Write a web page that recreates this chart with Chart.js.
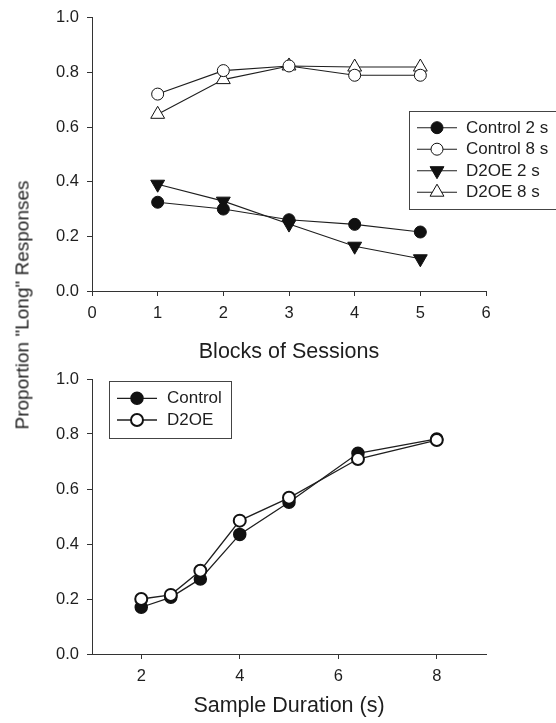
<!DOCTYPE html>
<html>
<head>
<meta charset="utf-8">
<script src="https://cdn.jsdelivr.net/npm/chart.js@4.4.1/dist/chart.umd.min.js"></script>
<style>
  html, body { margin: 0; padding: 0; background: #fff; }
  #page { position: relative; width: 556px; height: 723px; overflow: hidden; font-family: "Liberation Sans", Arial, sans-serif; }
  #chart-top { position: absolute; left: 0; top: 0; }
  #chart-bottom { position: absolute; left: 0; top: 360px; }
  #ytitle {
    position: absolute; left: 22px; top: 305px;
    transform: translate(-50%, -50%) rotate(-90deg);
    white-space: nowrap; font-size: 19px; color: #222; line-height: 1;
  }
</style>
</head>
<body>
<div id="page">
  <canvas id="chart-top" width="556" height="372" style="width:556px;height:372px"></canvas>
  <canvas id="chart-bottom" width="556" height="363" style="width:556px;height:363px"></canvas>
  <div id="ytitle">Proportion "Long" Responses</div>
</div>
<script>
// top panel: blocks of sessions
const blocks = [1, 2, 3, 4, 5]
const control2s = [0.325, 0.300, 0.261, 0.244, 0.216]
const control8s = [0.721, 0.807, 0.824, 0.790, 0.790]
const d2oe2s = [0.391, 0.329, 0.245, 0.164, 0.118]
const d2oe8s = [0.647, 0.774, 0.824, 0.820, 0.820]
const blockTicks = [0, 1, 2, 3, 4, 5, 6]

// bottom panel: sample duration
const durations = [2, 2.6, 3.2, 4, 5, 6.4, 8]
const controlDur = [0.170, 0.206, 0.273, 0.435, 0.552, 0.730, 0.782]
const d2oeDur = [0.200, 0.215, 0.303, 0.485, 0.568, 0.709, 0.778]
const durationTicks = [2, 4, 6, 8]

const propTicks = [0, 0.2, 0.4, 0.6, 0.8, 1.0]

const FONT = '"Liberation Sans", Arial, sans-serif'
const INK = '#1e1e1e'
const AXIS = '#333'

const pts = (xs, ys) => xs.map((x, i) => ({ x, y: ys[i] }))

// legend drawn inside the plot, framed like the original figure
const boxLegend = {
  id: 'boxLegend',
  afterDatasetsDraw(chart, args, opts) {
    const ctx = chart.ctx
    ctx.save()
    ctx.fillStyle = '#fff'
    ctx.fillRect(opts.left, opts.top, opts.width, opts.height)
    ctx.strokeStyle = '#444'
    ctx.lineWidth = 1
    ctx.strokeRect(opts.left + 0.5, opts.top + 0.5, opts.width, opts.height)
    ctx.font = opts.fontSize + 'px ' + FONT
    ctx.textBaseline = 'middle'
    chart.data.datasets.forEach((ds, i) => {
      const y = opts.firstRow + i * opts.rowGap
      ctx.strokeStyle = ds.borderColor
      ctx.lineWidth = ds.borderWidth
      ctx.beginPath()
      ctx.moveTo(opts.lineStart, y)
      ctx.lineTo(opts.lineEnd, y)
      ctx.stroke()
      ctx.fillStyle = ds.pointBackgroundColor
      ctx.strokeStyle = ds.pointBorderColor
      ctx.lineWidth = ds.pointBorderWidth
      Chart.helpers.drawPoint(ctx, {
        pointStyle: ds.pointStyle, rotation: ds.pointRotation || 0,
        radius: ds.pointRadius, borderWidth: ds.pointBorderWidth
      }, (opts.lineStart + opts.lineEnd) / 2, y)
      ctx.fillStyle = INK
      ctx.fillText(ds.label, opts.textX, y + 0.5)
    })
    ctx.restore()
  }
}

function series(label, data, style, filled, extra) {
  return Object.assign({
    label, data,
    borderColor: INK, borderWidth: 1.1,
    pointStyle: style, pointRadius: 6, pointHoverRadius: 6,
    pointBackgroundColor: filled ? '#111' : '#fff',
    pointBorderColor: '#111', pointBorderWidth: 1,
    clip: false, tension: 0
  }, extra || {})
}

function yScale() {
  return {
    type: 'linear', min: 0, max: 1,
    afterBuildTicks: s => { s.ticks = propTicks.map(v => ({ value: v })) },
    afterFit: s => { s.width = 92 },
    border: { display: true, color: AXIS, width: 1 },
    grid: { drawOnChartArea: false, drawTicks: true, tickLength: 5, color: AXIS },
    ticks: { padding: 8, color: INK, font: { family: FONT, size: 16.5 }, callback: v => v.toFixed(1) }
  }
}

function xScale(min, max, tickVals, height, title, titlePad) {
  return {
    type: 'linear', min, max,
    afterBuildTicks: s => { s.ticks = tickVals.map(v => ({ value: v })) },
    afterFit: s => { s.height = height },
    border: { display: true, color: AXIS, width: 1 },
    grid: { drawOnChartArea: false, drawTicks: true, tickLength: 5, color: AXIS },
    ticks: { padding: 8, color: INK, maxRotation: 0, font: { family: FONT, size: 16.5 } },
    title: { display: true, text: title, color: INK, padding: { top: 0, bottom: titlePad }, font: { family: FONT, size: 21.5 } }
  }
}

const common = {
  responsive: false,
  animation: false,
  events: [],
  plugins: { legend: { display: false }, tooltip: { enabled: false } }
}

new Chart(document.getElementById('chart-top').getContext('2d'), {
  type: 'line',
  data: {
    datasets: [
      series('Control 2 s', pts(blocks, control2s), 'circle', true, { order: 1 }),
      series('Control 8 s', pts(blocks, control8s), 'circle', false, { order: 2 }),
      series('D2OE 2 s', pts(blocks, d2oe2s), 'triangle', true, { pointRadius: 8, pointRotation: 180, order: 3 }),
      series('D2OE 8 s', pts(blocks, d2oe8s), 'triangle', false, { pointRadius: 8, order: 4 })
    ]
  },
  options: Object.assign({}, common, {
    layout: { autoPadding: false, padding: { left: 0, top: 15, right: 70, bottom: 0 } },
    scales: {
      x: xScale(0, 6, blockTicks, 81, 'Blocks of Sessions', 7),
      y: yScale()
    },
    plugins: Object.assign({}, common.plugins, {
      boxLegend: { left: 409, top: 111, width: 160, height: 98, firstRow: 127.7, rowGap: 21.5, lineStart: 417, lineEnd: 457, textX: 466, fontSize: 17 }
    })
  }),
  plugins: [boxLegend]
})

new Chart(document.getElementById('chart-bottom').getContext('2d'), {
  type: 'line',
  data: {
    datasets: [
      series('Control', pts(durations, controlDur), 'circle', true, { pointBorderWidth: 1.5, borderWidth: 1.3, order: 2 }),
      series('D2OE', pts(durations, d2oeDur), 'circle', false, { pointBorderWidth: 2, borderWidth: 1.3, order: 1 })
    ]
  },
  options: Object.assign({}, common, {
    layout: { autoPadding: false, padding: { left: 0, top: 19, right: 70, bottom: 0 } },
    scales: {
      x: xScale(1, 9, durationTicks, 69, 'Sample Duration (s)', 4),
      y: yScale()
    },
    plugins: Object.assign({}, common.plugins, {
      boxLegend: { left: 109, top: 21, width: 122, height: 57, firstRow: 38.3, rowGap: 21.7, lineStart: 117, lineEnd: 157, textX: 167, fontSize: 17 }
    })
  }),
  plugins: [boxLegend]
})
</script>
</body>
</html>
